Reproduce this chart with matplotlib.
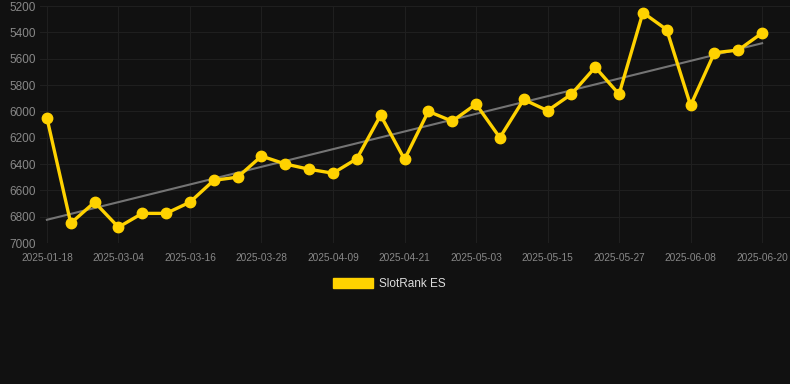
import numpy as np
import matplotlib
matplotlib.use("Agg")
import matplotlib.pyplot as plt
from matplotlib.patches import Patch

plt.rcParams['font.family'] = ['Liberation Sans', 'DejaVu Sans']

# dates on a category axis (only every third one is labelled)
dates = ['2025-01-18', '2025-02-24', '2025-02-28', '2025-03-04', '2025-03-08', '2025-03-12',
         '2025-03-16', '2025-03-20', '2025-03-24', '2025-03-28', '2025-04-01', '2025-04-05',
         '2025-04-09', '2025-04-13', '2025-04-17', '2025-04-21', '2025-04-25', '2025-04-29',
         '2025-05-03', '2025-05-07', '2025-05-11', '2025-05-15', '2025-05-19', '2025-05-23',
         '2025-05-27', '2025-05-31', '2025-06-04', '2025-06-08', '2025-06-12', '2025-06-16',
         '2025-06-20']
rank = [6050, 6850, 6690, 6880, 6775, 6775, 6690, 6524, 6500, 6340, 6400, 6440,
        6470, 6360, 6030, 6365, 6000, 6075, 5945, 6200, 5910, 5995, 5870, 5665,
        5870, 5250, 5380, 5955, 5555, 5535, 5405]
series_name = 'SlotRank ES'
y_ticks = [5200, 5400, 5600, 5800, 6000, 6200, 6400, 6600, 6800, 7000]

bg = '#111111'
gold = '#FFD200'

x = np.arange(len(dates))
coef = np.polyfit(x, rank, 1)
trend = np.polyval(coef, x)

fig = plt.figure(figsize=(7.9, 3.84), dpi=100, facecolor=bg)
ax = fig.add_axes([40 / 790, 1 - 243 / 384, 750 / 790, 237 / 384])
ax.set_facecolor(bg)

ax.plot(x, trend, color='#747474', linewidth=1.5, zorder=2)
ax.plot(x, rank, color=gold, linewidth=2.4, marker='o', markersize=7.5, zorder=3)

ax.set_ylim(7000, 5200)
ax.set_yticks(y_ticks)
ax.set_xlim(-0.29, 31.17)
ax.set_xticks(x[::3])
ax.set_xticklabels(dates[::3])

ax.grid(True, color='#1f1f1f', linewidth=0.8)
ax.set_axisbelow(True)
for s in ax.spines.values():
    s.set_visible(False)
ax.tick_params(axis='y', length=0, pad=3, labelsize=8.5, labelcolor='#888888')
ax.tick_params(axis='x', length=0, pad=7, labelsize=7.3, labelcolor='#888888')

fig.legend(handles=[Patch(facecolor=gold, edgecolor=gold)], labels=[series_name],
           loc='center', bbox_to_anchor=(389 / 790, 1 - 284 / 384), frameon=False,
           handlelength=3.4, handleheight=0.85, handletextpad=0.5,
           fontsize=8.5, labelcolor='#dddddd')

fig.savefig('out.png', dpi=100, facecolor=bg)
